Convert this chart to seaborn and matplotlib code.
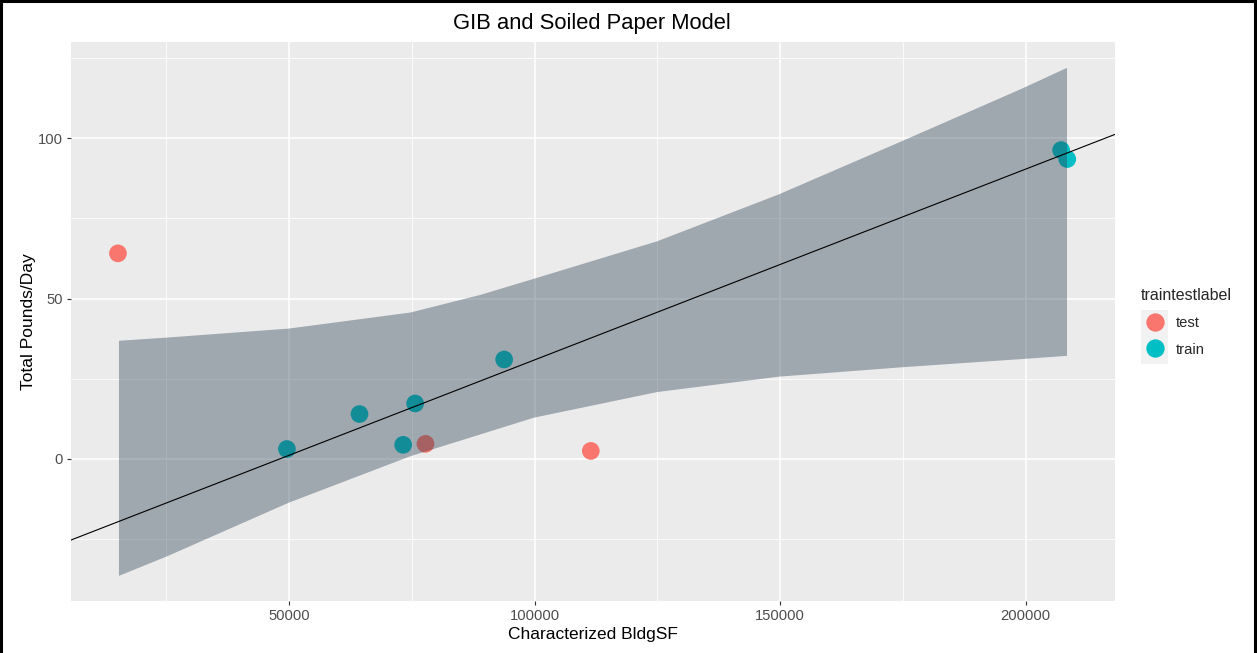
import matplotlib
matplotlib.use("Agg")
import matplotlib.pyplot as plt
import numpy as np
import pandas as pd
import seaborn as sns
from matplotlib.lines import Line2D
from matplotlib.patches import Rectangle

# ---------------- data ----------------
test_x = [15200, 77800, 111460]
test_y = [64.1, 4.7, 2.5]
train_x = [49600, 64370, 73260, 75700, 93820, 207200, 208450]
train_y = [3.1, 14.0, 4.4, 17.3, 31.0, 96.3, 93.5]
group_labels = ["test", "train"]

band_x = [15300, 25100, 49860, 74620, 88870, 99720, 124830, 149570,
          174340, 199100, 208300]
band_upper = [37.0, 38.0, 40.8, 45.8, 51.3, 56.3, 68.0, 82.6,
              99.0, 115.6, 122.1]
band_lower = [-36.3, -30.2, -13.5, 1.0, 7.8, 13.0, 21.0, 25.8,
              28.7, 31.3, 32.3]

fit_intercept = -28.64
fit_slope = 0.0005951

x_ticks = [50000, 100000, 150000, 200000]
x_minor = [25000, 75000, 125000, 175000]
y_ticks = [0, 50, 100]
y_minor = [-25, 25, 75, 125]

title = "GIB and Soiled Paper Model"
x_title = "Characterized BldgSF"
y_title = "Total Pounds/Day"
legend_title = "traintestlabel"

# ---------------- styling ----------------
W, H = 1257, 653
sns.set_theme(style="darkgrid")
plt.rcParams["font.family"] = ["Liberation Sans", "DejaVu Sans"]

palette = {"test": "#F8766D", "train": "#00BFC4"}

df = pd.DataFrame({
    "x": test_x + train_x,
    "y": test_y + train_y,
    "traintestlabel": ["test"] * len(test_x) + ["train"] * len(train_x),
})

fig = plt.figure(figsize=(W / 100, H / 100), dpi=100)
fig.patch.set_facecolor("white")
ax = fig.add_axes([70.5 / W, 1 - 600.7 / H, (1114.7 - 70.5) / W, (600.7 - 42) / H])
ax.set_facecolor("#EBEBEB")

sns.scatterplot(data=df, x="x", y="y", hue="traintestlabel", palette=palette,
                s=162, linewidth=0, legend=False, ax=ax, zorder=2)

ax.fill_between(band_x, band_lower, band_upper, color="#2F4256", alpha=0.4,
                linewidth=0, zorder=3)
ax.axline((0, fit_intercept), slope=fit_slope, color="black", lw=0.8, zorder=4)

ax.set_xlim(5540, 218110)
ax.set_ylim(-44.2, 130.0)
ax.set_xticks(x_ticks)
ax.set_xticklabels([str(v) for v in x_ticks])
ax.set_yticks(y_ticks)
ax.set_yticklabels([str(v) for v in y_ticks])
ax.set_xticks(x_minor, minor=True)
ax.set_yticks(y_minor, minor=True)
ax.grid(which="major", color="white", lw=1.1)
ax.grid(which="minor", color="white", lw=0.55)
ax.set_axisbelow(True)
for s in ax.spines.values():
    s.set_visible(False)
ax.tick_params(which="major", length=3.2, width=0.8, color="#333333",
               labelcolor="#4D4D4D", labelsize=10.6, pad=2.5)
ax.tick_params(which="minor", length=0)
ax.tick_params(axis="x", which="major", bottom=True, left=False)
ax.tick_params(axis="y", which="major", left=True)

ax.set_xlabel(x_title, fontsize=12.5, color="black", labelpad=3)
ax.set_ylabel(y_title, fontsize=12.5, color="black", labelpad=1)

fig.text(592 / W, 1 - 24 / H, title, ha="center", va="center", fontsize=15.8,
         color="black")

# legend key backgrounds
for i in range(2):
    fig.add_artist(Rectangle((1140.7 / W, 1 - (309.5 + 27.2 * (i + 1)) / H),
                             27.6 / W, 27.2 / H, transform=fig.transFigure,
                             facecolor="#F2F2F2", edgecolor="none", zorder=1))

handles = [Line2D([], [], marker="o", ls="", markersize=13.2,
                  markerfacecolor=palette[g], markeredgewidth=0) for g in group_labels]
leg = fig.legend(handles, group_labels, title=legend_title, loc="upper left",
                 bbox_to_anchor=(1140.7 / W, 1 - 288 / H), frameon=False,
                 alignment="left", fontsize=10.6, title_fontsize=11.5,
                 handlelength=1.88, handletextpad=0.52, labelspacing=0.87,
                 borderaxespad=0, borderpad=0)
leg.set_zorder(5)

# screenshot frame
for xs, ys in [([1.3 / W, 1.3 / W], [0, 1]), ([0, 1], [1 - 1.3 / H, 1 - 1.3 / H]),
               ([1 - 1.8 / W, 1 - 1.8 / W], [0, 1])]:
    fig.add_artist(Line2D(xs, ys, transform=fig.transFigure, color="black", lw=2.2))

fig.savefig("out.png", dpi=100)
